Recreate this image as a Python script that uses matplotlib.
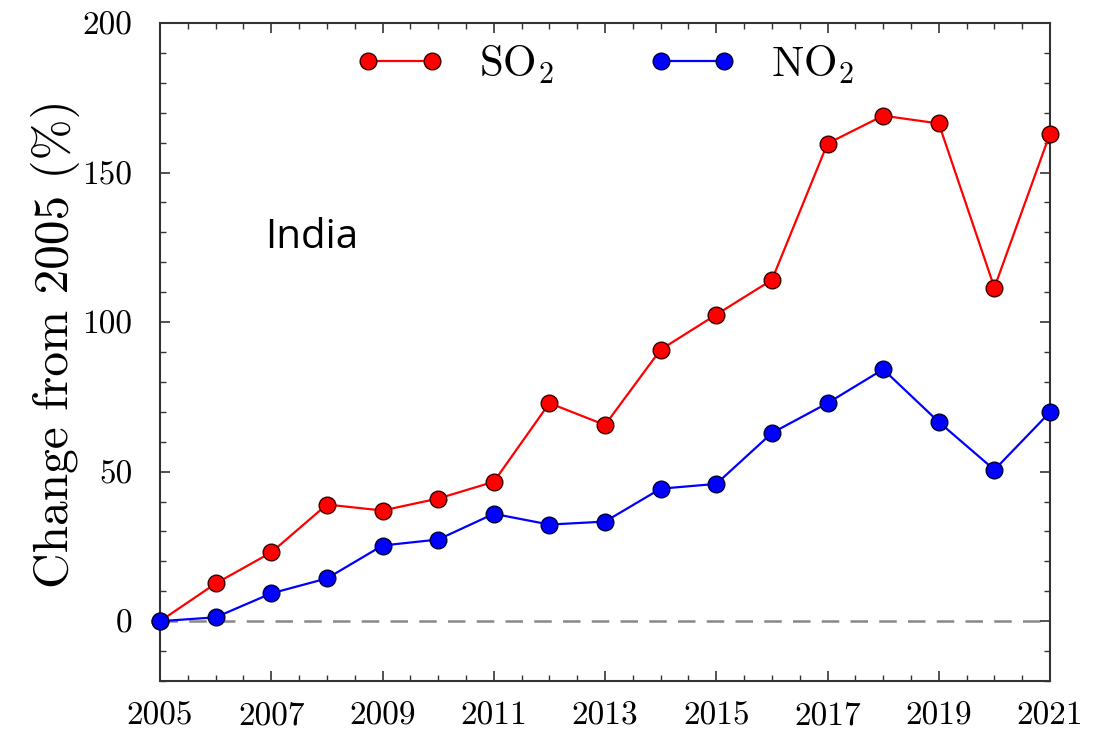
import matplotlib
matplotlib.use("Agg")
import matplotlib.pyplot as plt
from matplotlib.ticker import MultipleLocator

plt.rcParams["font.family"] = "serif"
plt.rcParams["font.serif"] = ["cmr10", "DejaVu Serif"]
plt.rcParams["mathtext.fontset"] = "cm"
plt.rcParams["axes.formatter.use_mathtext"] = True

years = list(range(2005, 2022))
so2 = [0, 12.6, 23, 39, 37, 41, 46.6, 72.9, 65.6, 90.8, 102.5, 114.1,
       159.7, 169, 166.4, 111.5, 163]
no2 = [0, 1.3, 9.3, 14.3, 25.3, 27.3, 35.9, 32.3, 33.3, 44.3, 45.9, 62.9,
       72.9, 84.2, 66.6, 50.6, 69.9]
xticks = [2005, 2007, 2009, 2011, 2013, 2015, 2017, 2019, 2021]
yticks = [0, 50, 100, 150, 200]

fig = plt.figure(figsize=(10.94, 7.34), dpi=100)
ax = fig.add_axes([0.1463, 0.0722, 0.8135, 0.8965])

ax.axhline(0, color="#888888", lw=1.8, ls=(0, (7, 4.5)), zorder=1)

ax.plot(years, so2, color="red", lw=1.6, marker="o", ms=12,
        mfc="red", mec="#3a0000", mew=1.0, label=r"SO$_2$", zorder=3,
        clip_on=False)
ax.plot(years, no2, color="blue", lw=1.6, marker="o", ms=12,
        mfc="blue", mec="#00003a", mew=1.0, label=r"NO$_2$", zorder=3,
        clip_on=False)

ax.set_xlim(2005, 2021)
ax.set_ylim(-20, 200)
ax.set_xticks(xticks)
ax.set_xticklabels([str(t) for t in xticks])
ax.set_yticks(yticks)
ax.set_yticklabels([str(t) for t in yticks])
ax.xaxis.set_minor_locator(MultipleLocator(0.5))
ax.yaxis.set_minor_locator(MultipleLocator(10))
ax.tick_params(which="both", direction="in", top=True, right=True,
               colors="#333333", labelcolor="black")
ax.tick_params(which="major", length=7, width=1.2, labelsize=24)
ax.tick_params(axis="x", which="major", pad=15)
ax.tick_params(axis="y", which="major", pad=20)
ax.tick_params(which="minor", length=4, width=1.0)
for s in ax.spines.values():
    s.set_color("#333333")
    s.set_linewidth(1.5)

ax.set_ylabel("Change from 2005 (%)", fontsize=35.5)
ax.yaxis.set_label_coords(-0.09, 0.512)

ax.text(0.118, 0.674, "India", transform=ax.transAxes, fontsize=29,
        family="Open Sans", ha="left", va="center")

ax.legend(loc="upper center", ncol=2, frameon=False, numpoints=2,
          fontsize=31, handlelength=2.07, columnspacing=2.2,
          bbox_to_anchor=(0.5, 1.028), handletextpad=0.79)

fig.savefig("out.png", dpi=100)
